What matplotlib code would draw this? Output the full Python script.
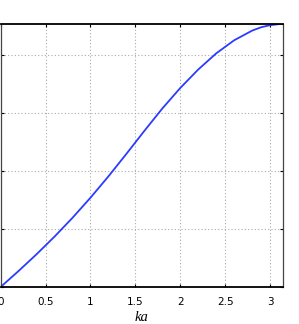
import numpy as np
import matplotlib
matplotlib.use("Agg")
import matplotlib.pyplot as plt

# values
ka = [0.0, 0.2, 0.4, 0.6, 0.8, 1.0, 1.2, 1.4, 1.6, 1.8, 2.0, 2.2, 2.4, 2.6, 2.8, 2.9, 3.0, 3.1, np.pi]
w = [0.0, 0.138, 0.282, 0.434, 0.596, 0.769, 0.953, 1.147, 1.345, 1.538,
     1.715, 1.874, 2.013, 2.126, 2.209, 2.238, 2.256, 2.265, 2.266]

xticks = [0, 0.5, 1, 1.5, 2, 2.5, 3]
xticklabels = ["0", "0.5", "1", "1.5", "2", "2.5", "3"]
yticks = [0, 0.5, 1.0, 1.5, 2.0]

fig = plt.figure(figsize=(2.99, 3.24), dpi=100)
ax = fig.add_axes([0.002, 1 - 287 / 324, 0.944, (287 - 24) / 324])

ax.plot(ka, w, color="#2b3bff", lw=1.3)

ax.set_xlim(0, np.pi)
ax.set_ylim(0, max(w))
ax.set_xticks(xticks)
ax.set_xticklabels(xticklabels)
ax.set_yticks(yticks)

ax.grid(True, color="#aaaaaa", linestyle=(0, (1, 2)), lw=0.8)
ax.tick_params(direction="in", length=2.5, width=0.8, top=True, right=True,
               labelleft=False, labelsize=7.5, pad=7, colors="black")
for s in ["top", "bottom"]:
    ax.spines[s].set_linewidth(1.3)
    ax.spines[s].set_color("black")
for s in ["left", "right"]:
    ax.spines[s].set_linewidth(0.9)
    ax.spines[s].set_color("#444444")

ax.set_xlabel("ka", family="Liberation Serif", style="italic", fontsize=10.5, labelpad=3)

fig.savefig("out.png", dpi=100)
